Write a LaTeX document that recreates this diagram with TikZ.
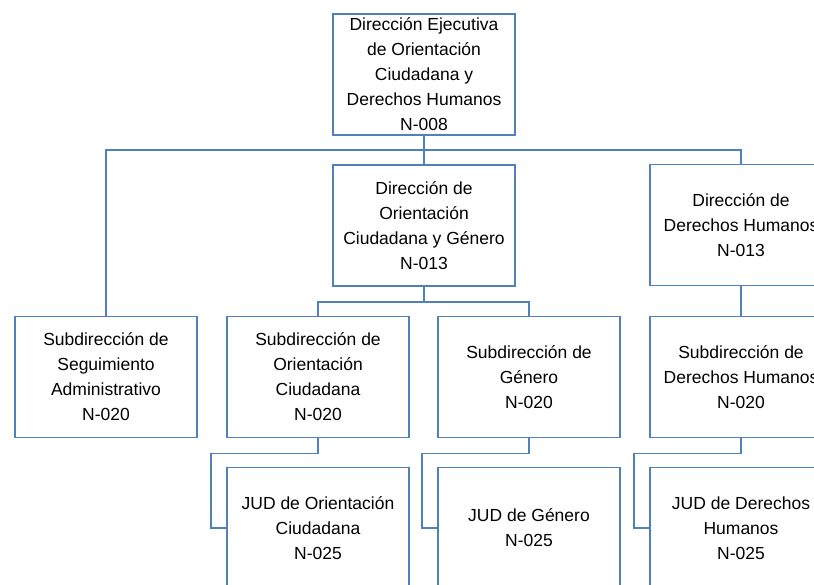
\documentclass[tikz,border=0pt]{standalone}
\usepackage{fontspec}
\setmainfont{Liberation Sans}
\usetikzlibrary{positioning, calc}
\definecolor{orgblue}{RGB}{79,129,189}

\begin{document}
\begin{tikzpicture}[
        x=1pt, y=1pt,
        node distance=30pt and 30pt,
        unitbox/.style={rectangle, draw=orgblue, line width=1.6pt, fill=white, minimum width=182pt, minimum height=121pt, inner sep=0pt, outer sep=0pt, align=center, text=black, font=\fontsize{17.5}{25}\selectfont},
        link/.style={draw=orgblue, line width=1.6pt},
    ]
        \useasboundingbox (0,0) rectangle (814,-585);
        \clip (0,0) rectangle (814,-585);

        % Top unit
        \node[unitbox] (dej) at (424,-74.5) {Dirección Ejecutiva\\de Orientación\\Ciudadana y\\Derechos Humanos\\N-008};

        % Subdirecciones (row)
        \node[unitbox] (subSA) at (106,-377) {Subdirección de\\Seguimiento\\Administrativo\\N-020};
        \node[unitbox, right=30pt of subSA] (subOC) {Subdirección de\\Orientación\\Ciudadana\\N-020};
        \node[unitbox, right=29pt of subOC] (subG) {Subdirección de\\Género\\N-020};
        \node[unitbox, right=30pt of subG] (subDH) {Subdirección de\\Derechos Humanos\\N-020};

        % Direcciones
        \node[unitbox, below=30pt of dej] (dirOC) {Dirección de\\Orientación\\Ciudadana y Género\\N-013};
        \node[unitbox, above=31pt of subDH] (dirDH) {Dirección de\\Derechos Humanos\\N-013};

        % JUD row
        \node[unitbox, below=30pt of subOC] (judOC) {JUD de Orientación\\Ciudadana\\N-025};
        \node[unitbox, below=30pt of subG] (judG) {JUD de Género\\N-025};
        \node[unitbox, below=30pt of subDH] (judDH) {JUD de Derechos\\Humanos\\N-025};

        % Links: top unit
        \coordinate (bus1) at ($(dej.south)+(0,-15)$);
        \draw[link] (dej.south) -- (dirOC.north);
        \draw[link] (subSA.north) |- (dirDH.north |- bus1) -- (dirDH.north);

        % Links: direcciones to subdirecciones
        \coordinate (bus2) at ($(dirOC.south)+(0,-16)$);
        \draw[link] (dirOC.south) -- (bus2);
        \draw[link] (subOC.north) |- (bus2) -| (subG.north);
        \draw[link] (dirDH.south) -- (subDH.north);

        % Links: subdirecciones to JUD
        \draw[link] (subOC.south) -- ++(0,-16) -| ($(judOC.west)+(-16,0)$) -- (judOC.west);
        \draw[link] (subG.south) -- ++(0,-16) -| ($(judG.west)+(-16,0)$) -- (judG.west);
        \draw[link] (subDH.south) -- ++(0,-16) -| ($(judDH.west)+(-16,0)$) -- (judDH.west);
    \end{tikzpicture}
\end{document}
